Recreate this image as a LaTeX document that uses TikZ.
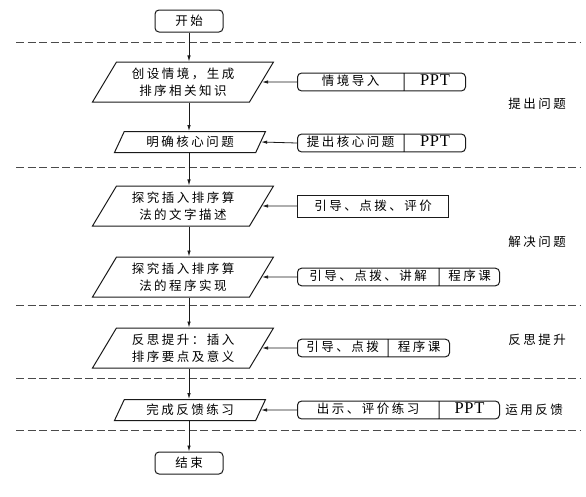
\documentclass[tikz,border=0pt]{standalone}
\usepackage{fontspec}
\setmainfont{Noto Sans CJK SC}[LetterSpace=20]
\newfontfamily\latinfont{Liberation Serif}[LetterSpace=4]
\usepackage{tikz}
\usetikzlibrary{arrows.meta,shapes.geometric,shapes.multipart}
\definecolor{ink}{HTML}{1A1A1A}
\definecolor{rulegray}{HTML}{4A4A4A}
\newcommand{\cellbox}[2]{\makebox[#1]{\rule[-4pt]{0pt}{14pt}#2}}
\newcommand{\ppt}{{\latinfont\fontsize{16.5}{17}\selectfont PPT}}
\tikzset{
  terminal/.style={draw=ink,line width=1pt,rounded corners=4pt,
                   minimum width=68pt,minimum height=22pt,inner sep=0pt,
                   font=\fontsize{12.5}{17}\selectfont},
  iobox/.style={shape=trapezium,trapezium left angle=50,
                trapezium right angle=130,trapezium stretches body,
                draw=ink,line width=1pt,align=center,inner sep=0pt,
                font=\fontsize{12.5}{17}\selectfont},
  bigio/.style={iobox,minimum width=181pt,minimum height=40pt},
  smallio/.style={iobox,minimum width=151pt,minimum height=21pt},
  toolbox/.style={rectangle split,rectangle split horizontal,
                  rectangle split parts=2,draw=ink,line width=1pt,
                  rounded corners=4pt,inner xsep=0pt,inner ysep=1.5pt,
                  anchor=west,font=\fontsize{12.5}{17}\selectfont},
  plainbox/.style={draw=ink,line width=1pt,inner sep=0pt,anchor=west,
                   minimum height=22pt,font=\fontsize{12.5}{17}\selectfont},
  phase/.style={font=\fontsize{12.5}{17}\selectfont,inner sep=0pt},
  flowarr/.style={-{Latex[length=6pt,width=3.5pt]},line width=0.8pt,
                  draw=ink},
  sepline/.style={dash pattern=on 8pt off 3.5pt,line width=0.9pt,
                  draw=rulegray}
}
\begin{document}
\begin{tikzpicture}[x=1pt,y=-1pt]
  \path[use as bounding box] (0,0) rectangle (586,496);
  % phase separators
  \foreach \ly in {42,167,305,378,430}
    \draw[sepline] (16,\ly) -- (580,\ly);
  % main flow
  \node[terminal] (start) at (189,21) {开始};
  \node[bigio] (p1) at (183,82) {创设情境，生成\\排序相关知识};
  \node[smallio] (p2) at (190,142) {明确核心问题};
  \node[bigio] (p3) at (183,206) {探究插入排序算\\法的文字描述};
  \node[bigio] (p4) at (183,277) {探究插入排序算\\法的程序实现};
  \node[bigio] (p5) at (183,348) {反思提升：插入\\排序要点及意义};
  \node[smallio] (p6) at (190,410) {完成反馈练习};
  \node[terminal] (stop) at (189,463) {结束};
  % teaching means
  \node[toolbox] (t1) at (297,82)
    {\cellbox{106pt}{情境导入}\nodepart{two}\cellbox{61pt}{\ppt}};
  \node[toolbox] (t2) at (297,143)
    {\cellbox{106pt}{提出核心问题}\nodepart{two}\cellbox{61pt}{\ppt}};
  \node[plainbox,minimum width=151pt] (t3) at (297,206) {引导、点拨、评价};
  \node[toolbox] (t4) at (297,277)
    {\cellbox{141pt}{引导、点拨、讲解}\nodepart{two}\cellbox{60pt}{程序课}};
  \node[toolbox] (t5) at (297,348)
    {\cellbox{90pt}{引导、点拨}\nodepart{two}\cellbox{61pt}{程序课}};
  \node[toolbox] (t6) at (297,410)
    {\cellbox{141pt}{出示、评价练习}\nodepart{two}\cellbox{60pt}{\ppt}};
  % phase labels
  \node[phase] (ph1) at (537,104) {提出问题};
  \node[phase] (ph2) at (537,242) {解决问题};
  \node[phase] (ph3) at (537,340) {反思提升};
  \node[phase] (ph4) at (534,410) {运用反馈};
  % vertical arrows
  \draw[flowarr] (start) -- (start |- p1.north);
  \draw[flowarr] (p1.south -| start) -- (start |- p2.north);
  \draw[flowarr] (p2.south -| start) -- (start |- p3.north);
  \draw[flowarr] (p3.south -| start) -- (start |- p4.north);
  \draw[flowarr] (p4.south -| start) -- (start |- p5.north);
  \draw[flowarr] (p5.south -| start) -- (start |- p6.north);
  \draw[flowarr] (p6.south -| start) -- (stop);
  % horizontal arrows
  \foreach \k in {1,...,6}
    \draw[flowarr] (t\k.west) -- (p\k.east);
\end{tikzpicture}
\end{document}
